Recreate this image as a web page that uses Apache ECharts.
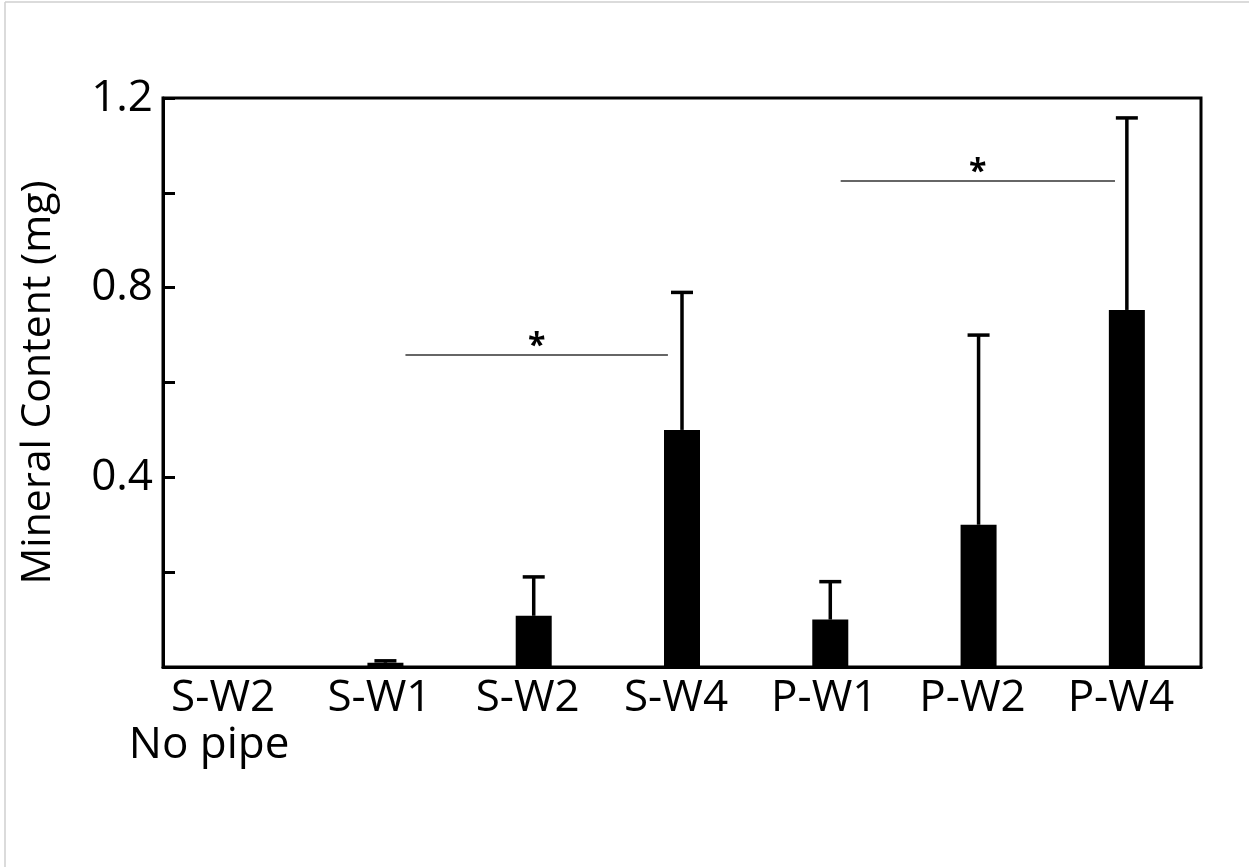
<!DOCTYPE html>
<html>
<head>
<meta charset="utf-8">
<script src="https://cdn.jsdelivr.net/npm/echarts@6/dist/echarts.min.js"></script>
<style>html,body{margin:0;padding:0;background:#fff}#c{width:1249px;height:867px}</style>
</head>
<body>
<div id="c"></div>
<script>
var categories = ['S-W2\nNo pipe', 'S-W1', 'S-W2', 'S-W4', 'P-W1', 'P-W2', 'P-W4'];
var means = [0, 0.009, 0.108, 0.50, 0.10, 0.30, 0.753];
var errorTops = [0, 0.013, 0.19, 0.79, 0.18, 0.70, 1.158];
var yTickLabels = ['0.4', '0.8', '1.2'];
// significance brackets: [startIndex, endIndex, y]
var sigStart = [1.135, 4.07];
var sigEnd = [2.905, 5.92];
var sigY = [0.658, 1.025];
var sigText = ['*', '*'];

var chart = echarts.init(document.getElementById('c'));
var FONT = 'Open Sans';

var errData = means.map(function (m, i) { return [i, m, errorTops[i]]; });
var sigData = sigStart.map(function (s, i) { return [s, sigEnd[i], sigY[i], sigText[i]]; });

chart.setOption({
  animation: false,
  backgroundColor: '#fff',
  graphic: [
    { type: 'line', shape: { x1: 5, y1: 2, x2: 1249, y2: 2 }, style: { stroke: '#cfcfcf', lineWidth: 1.5 } },
    { type: 'line', shape: { x1: 5, y1: 2, x2: 5, y2: 867 }, style: { stroke: '#cfcfcf', lineWidth: 1.5 } }
  ],
  grid: { left: 163, right: 48, top: 98, bottom: 200, show: true, borderColor: '#000', borderWidth: 3, backgroundColor: 'transparent' },
  xAxis: [{
    type: 'category',
    data: categories,
    axisLine: { lineStyle: { color: '#000', width: 3 } },
    axisTick: { show: false },
    axisLabel: {
      interval: 0,
      color: '#000', fontFamily: FONT, fontSize: 44, margin: 8, lineHeight: 47,
      formatter: function (v, i) {
        if (i === 0) return '{a|S-W2}\n{b|No pipe}';
        return '{c|' + v + '}';
      },
      rich: {
        a: { fontFamily: FONT, fontSize: 44, color: '#000', lineHeight: 47, padding: [0, 28, 0, 0] },
        b: { fontFamily: FONT, fontSize: 44, color: '#000', lineHeight: 47, padding: [0, 56, 0, 0] },
        c: { fontFamily: FONT, fontSize: 44, color: '#000', lineHeight: 47, padding: [0, 12, 0, 0] }
      }
    }
  }, {
    type: 'value', min: -0.5, max: 6.5, show: false
  }],
  yAxis: {
    type: 'value', min: 0, max: 1.2, interval: 0.2,
    name: 'Mineral Content (mg)', nameLocation: 'middle', nameGap: 104,
    nameTextStyle: { fontFamily: FONT, fontSize: 41, color: '#000' },
    axisLine: { show: true, onZero: false, lineStyle: { color: '#000', width: 3 } },
    axisTick: { show: true, inside: true, length: 12, lineStyle: { color: '#000', width: 3 } },
    splitLine: { show: false },
    axisLabel: {
      color: '#000', fontFamily: FONT, fontSize: 44, margin: 10,
      formatter: function (v) {
        var s = v.toFixed(1);
        return yTickLabels.indexOf(s) >= 0 ? s : '';
      }
    }
  },
  series: [{
    type: 'bar', data: means, barWidth: 36,
    itemStyle: { color: '#000' }
  }, {
    type: 'custom',
    data: errData,
    z: 3,
    renderItem: function (params, api) {
      if (api.value(2) <= api.value(1)) return null;
      var lo = api.coord([api.value(0), api.value(1)]);
      var hi = api.coord([api.value(0), api.value(2)]);
      return {
        type: 'group', children: [
          { type: 'line', shape: { x1: lo[0], y1: lo[1], x2: hi[0], y2: hi[1] }, style: { stroke: '#000', lineWidth: 3.5 } },
          { type: 'line', shape: { x1: hi[0] - 11, y1: hi[1], x2: hi[0] + 11, y2: hi[1] }, style: { stroke: '#000', lineWidth: 3.5 } }
        ]
      };
    }
  }, {
    type: 'custom',
    xAxisIndex: 1,
    data: sigData,
    z: 4,
    renderItem: function (params, api) {
      var a = api.coord([api.value(0), api.value(2)]);
      var b = api.coord([api.value(1), api.value(2)]);
      var mid = (a[0] + b[0]) / 2;
      return {
        type: 'group', children: [
          { type: 'line', shape: { x1: a[0], y1: a[1], x2: b[0], y2: b[1] }, style: { stroke: '#333', lineWidth: 1.5 } },
          { type: 'text', style: { text: '*', x: mid, y: a[1] - 8, textAlign: 'center', textVerticalAlign: 'middle', fontFamily: FONT, fontWeight: 'bold', fontSize: 32, fill: '#000' } }
        ]
      };
    }
  }]
});
</script>
</body>
</html>
